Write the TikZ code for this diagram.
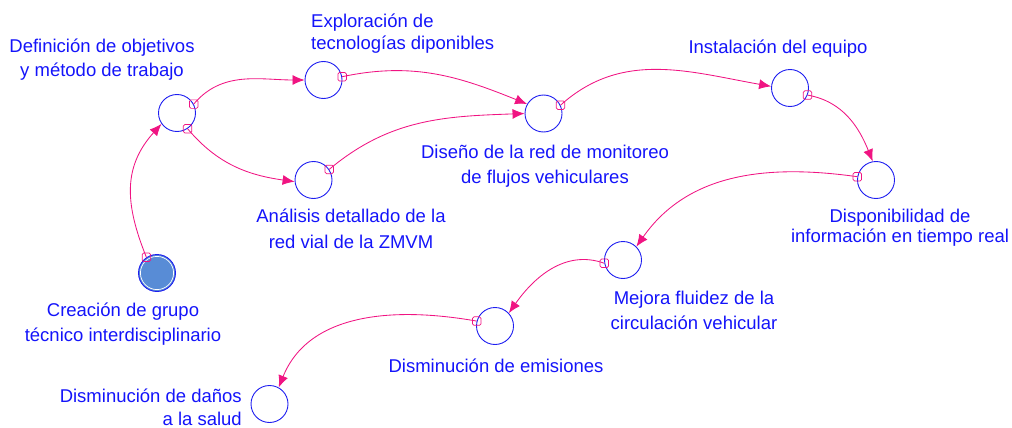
\documentclass[tikz,border=0pt]{standalone}
\usepackage{fontspec}
\setmainfont{Liberation Sans}
\usetikzlibrary{arrows.meta}
\definecolor{lblue}{RGB}{20,20,250}
\definecolor{cblue}{RGB}{30,30,240}
\definecolor{pinkc}{RGB}{240,20,130}
\definecolor{fillblue}{RGB}{88,140,214}
\tikzset{
  lvl/.style={circle,draw=cblue,line width=0.9pt,minimum size=37pt,inner sep=0pt},
  srclvl/.style={lvl,fill=fillblue},
  lab/.style={text=lblue,inner sep=0pt,font=\fontsize{18.5}{#1}\selectfont},
  lab/.default=24,
  flow/.style={draw=pinkc,line width=0.85pt,-{Latex[length=12pt,width=10pt]}},
  tailmark/.style={rectangle,draw=pinkc,line width=0.7pt,minimum size=8.5pt,inner sep=0pt,rounded corners=1.5pt}
}
\begin{document}
\begin{tikzpicture}[x=1pt,y=1pt]
\useasboundingbox (0,0) rectangle (1012,-428);
% levels
\node[lvl] (a) at (177,-113) {};
\node[lvl] (b) at (323.5,-80) {};
\node[lvl] (c) at (543.5,-113.5) {};
\node[lvl] (d) at (313.5,-180) {};
\node[lvl] (e) at (790,-88) {};
\node[lvl] (f) at (876,-180) {};
\node[lvl] (g) at (623,-260) {};
\node[lvl] (h) at (495,-326) {};
\node[lvl] (i) at (269.5,-404) {};
\node[srclvl] (j) at (157,-273) {};
\draw[white,line width=0.7pt] (j.center) circle (16.6pt);
% labels (base = baseline of last line)
\node[lab=24,align=center,anchor=base] (la) at (102,-77) {Definición de objetivos\\y método de trabajo};
\node[lab=22,align=left,anchor=base west] (lb) at (311,-50) {Exploración de\\tecnologías diponibles};
\node[lab=25,align=center,anchor=base] (lc) at (545,-183) {Diseño de la red de monitoreo\\de flujos vehiculares};
\node[lab=26,align=center,anchor=base] (ld) at (351,-248) {Análisis detallado de la\\red vial de la ZMVM};
\node[lab,anchor=base] (le) at (778,-54) {Instalación del equipo};
\node[lab=20,align=center,anchor=base] (lf) at (900,-242) {Disponibilidad de\\información en tiempo real};
\node[lab=25,align=center,anchor=base] (lg) at (694,-329) {Mejora fluidez de la\\circulación vehicular};
\node[lab,anchor=base] (lh) at (496,-372) {Disminución de emisiones};
\node[lab=23,align=right,anchor=base east] (li) at (242,-425) {Disminución de daños\\a la salud};
\node[lab=25,align=center,anchor=base] (lj) at (123,-341) {Creación de grupo\\técnico interdisciplinario};
% flows
\draw[flow] (j.124) to[out=112,in=228,looseness=1.1] (a.215);
\node[tailmark] (m1) at (j.124) {};
\draw[flow] (a.28) to[out=50,in=180] (b.180);
\node[tailmark] (m2) at (a.28) {};
\draw[flow] (a.304) to[out=-50,in=172] (d.185);
\node[tailmark] (m3) at (a.304) {};
\draw[flow] (b.10) to[out=12,in=158] (c.150);
\node[tailmark] (m4) at (b.10) {};
\draw[flow] (d.34) to[out=40,in=182] (c.180);
\node[tailmark] (m5) at (d.34) {};
\draw[flow] (c.26) to[out=42,in=170] (e.175);
\node[tailmark] (m6) at (c.26) {};
\draw[flow] (e.-22) to[out=-10,in=112] (f.100);
\node[tailmark] (m7) at (e.-22) {};
\draw[flow] (f.170) to[out=172,in=55] (g.45);
\node[tailmark] (m8) at (f.170) {};
\draw[flow] (g.190) to[out=160,in=55] (h.43);
\node[tailmark] (m9) at (g.190) {};
\draw[flow] (h.165) to[out=170,in=68] (i.61);
\node[tailmark] (m10) at (h.165) {};
\end{tikzpicture}
\end{document}
